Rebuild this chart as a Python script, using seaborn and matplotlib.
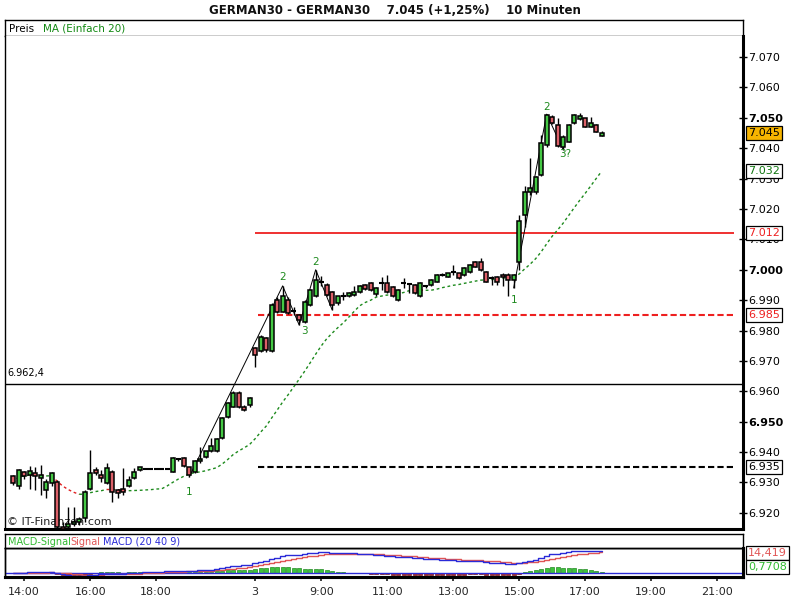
import numpy as np
import pandas as pd
import matplotlib
matplotlib.use("Agg")
import matplotlib.pyplot as plt
import seaborn as sns

# ---------------- data (index points, 10-minute bars) ----------------
opens = [6932.0, 6928.7, 6933.5, 6932.5, 6933.0, 6931.4, 6927.6, 6929.8, 6930.3, 6915.5,
         6915.5, 6916.5, 6917.0, 6918.2, 6928.0, 6934.1, 6932.5, 6929.8, 6933.6, 6927.6,
         6927.8, 6928.7, 6931.4, 6934.0, 6934.5, 6934.5, 6934.5, 6934.5, 6934.5, 6933.6,
         6937.5, 6938.0, 6935.0, 6933.6, 6937.0, 6938.3, 6940.5, 6940.2, 6944.6, 6951.7,
         6955.0, 6959.6, 6955.0, 6955.5, 6974.2, 6973.1, 6977.5, 6973.1, 6990.0, 6986.2,
         6990.0, 6986.2, 6985.2, 6982.9, 6988.4, 6991.2, 6996.2, 6995.0, 6992.8, 6989.0,
         6991.2, 6991.2, 6991.7, 6992.8, 6995.0, 6995.5, 6991.9, 6995.5, 6995.5, 6994.4,
         6990.1, 6995.5, 6995.5, 6995.0, 6991.2, 6994.5, 6995.0, 6996.1, 6998.3, 6997.7,
         6999.4, 6998.8, 6998.3, 6999.4, 7002.7, 7002.7, 6999.4, 6997.2, 6997.7, 6998.3,
         6998.3, 6996.6, 7002.7, 7018.0, 7025.5, 7025.7, 7031.2, 7041.0, 7050.4, 7047.6,
         7040.5, 7042.1, 7048.2, 7049.6, 7049.8, 7047.0, 7047.6, 7044.1]
highs = [6932.5, 6934.5, 6933.8, 6935.5, 6935.2, 6935.8, 6931.0, 6933.5, 6930.8, 6917.0,
         6922.0, 6922.1, 6918.5, 6927.5, 6940.7, 6935.2, 6934.0, 6936.5, 6934.0, 6928.0,
         6934.7, 6932.0, 6934.7, 6935.2, 6934.5, 6934.5, 6934.5, 6934.5, 6934.5, 6938.5,
         6938.0, 6938.3, 6935.2, 6937.5, 6941.8, 6940.5, 6944.5, 6944.7, 6951.5, 6956.5,
         6960.0, 6960.0, 6955.5, 6958.0, 6974.5, 6978.5, 6978.0, 6989.0, 6991.0, 6994.7,
         6991.0, 6987.7, 6985.5, 6990.0, 6993.8, 7000.0, 6998.0, 6995.5, 6993.0, 6991.5,
         6992.8, 6992.8, 6994.5, 6995.0, 6995.3, 6996.0, 6994.2, 6997.7, 6998.3, 6994.7,
         6993.7, 6997.2, 6995.7, 6995.3, 6995.8, 6995.0, 6997.0, 6998.6, 6999.0, 6999.0,
         7001.6, 6999.0, 7000.8, 7002.0, 7003.0, 7003.8, 6999.7, 6998.0, 6998.0, 6998.8,
         6998.8, 6998.5, 7018.0, 7027.6, 7036.7, 7031.0, 7044.3, 7051.2, 7051.0, 7049.8,
         7044.2, 7048.0, 7051.2, 7051.5, 7050.0, 7050.4, 7047.8, 7045.5]
lows = [6929.2, 6928.0, 6931.0, 6928.0, 6927.6, 6926.0, 6924.8, 6929.0, 6914.5, 6914.0,
        6915.0, 6915.8, 6916.0, 6917.0, 6927.5, 6932.5, 6930.0, 6929.5, 6923.7, 6925.0,
        6926.0, 6928.5, 6931.0, 6933.8, 6934.5, 6934.5, 6934.5, 6934.5, 6934.5, 6933.3,
        6937.0, 6935.0, 6931.8, 6933.0, 6936.5, 6938.0, 6940.0, 6940.0, 6944.3, 6951.2,
        6954.8, 6954.5, 6953.5, 6955.0, 6968.0, 6973.0, 6973.0, 6973.0, 6985.8, 6986.0,
        6985.5, 6985.0, 6981.8, 6982.5, 6988.0, 6991.0, 6994.5, 6991.2, 6986.8, 6988.5,
        6990.0, 6991.0, 6991.5, 6992.5, 6993.3, 6993.0, 6991.5, 6993.4, 6992.5, 6991.0,
        6989.8, 6993.9, 6992.3, 6992.0, 6991.0, 6994.0, 6994.7, 6995.8, 6998.0, 6997.5,
        6998.3, 6997.0, 6998.0, 6999.0, 7000.8, 6999.5, 6995.8, 6995.0, 6995.0, 6994.5,
        6991.2, 6994.0, 7000.0, 7014.0, 7024.6, 7025.0, 7031.0, 7040.5, 7048.0, 7040.3,
        7039.5, 7042.0, 7048.0, 7049.4, 7046.8, 7046.8, 7045.2, 7044.0]
closes = [6929.8, 6934.1, 6932.3, 6933.8, 6932.2, 6932.5, 6930.3, 6933.0, 6915.5, 6914.8,
          6916.2, 6917.0, 6918.0, 6927.0, 6933.0, 6933.0, 6931.5, 6934.7, 6927.0, 6926.5,
          6926.8, 6930.9, 6933.6, 6935.0, 6934.5, 6934.5, 6934.5, 6934.5, 6934.5, 6938.0,
          6937.6, 6935.5, 6932.5, 6937.0, 6937.8, 6940.2, 6942.1, 6944.3, 6951.1, 6956.1,
          6959.4, 6955.0, 6954.0, 6957.7, 6972.0, 6978.0, 6973.6, 6988.4, 6986.2, 6991.2,
          6985.7, 6986.4, 6983.5, 6989.5, 6993.4, 6996.7, 6996.0, 6991.7, 6988.4, 6991.2,
          6991.2, 6992.3, 6992.8, 6994.5, 6993.6, 6993.2, 6993.9, 6995.5, 6992.8, 6991.2,
          6993.4, 6995.5, 6995.3, 6992.3, 6995.5, 6994.5, 6996.6, 6998.3, 6998.3, 6998.8,
          6999.4, 6997.2, 7000.5, 7001.6, 7001.0, 6999.9, 6996.1, 6997.2, 6996.0, 6997.7,
          6996.6, 6998.3, 7016.0, 7025.7, 7027.0, 7030.6, 7041.6, 7050.9, 7048.2, 7040.6,
          7043.8, 7047.6, 7050.9, 7050.7, 7047.0, 7048.2, 7045.4, 7045.0]

tick_pos = [2, 14, 26, 44, 56, 68, 80, 92, 104, 116, 128]
tick_labels = ["14:00", "16:00", "18:00", "3", "9:00", "11:00", "13:00",
               "15:00", "17:00", "19:00", "21:00"]
ytick_vals = [6920, 6930, 6940, 6950, 6960, 6970, 6980, 6990, 7000,
              7010, 7020, 7030, 7040, 7050, 7060, 7070]
bold_ticks = [6950, 7000, 7050]

level_prev = 6962.4
level_red = 7012
level_red_dash = 6985
level_black_dash = 6935
last_price = 7045
level_start = 44
macd_signal_last = "14,419"
macd_hist_last = "0,7708"

zz1_idx = [32, 49, 52, 55, 58]
zz1_val = [6931.8, 6994.7, 6981.8, 7000.0, 6986.8]
zz2_idx = [91, 97, 100]
zz2_val = [6994.0, 7051.2, 7039.5]
wave_labels = ["1", "2", "3", "2", "1", "2", "3?"]
wave_idx = [32, 49, 53, 55, 91, 97, 100.4]
wave_val = [6927.0, 6997.5, 6980.0, 7002.5, 6990.0, 7053.5, 7038.0]

# ---------------- derived indicators ----------------
df = pd.DataFrame({"i": np.arange(len(closes)), "open": opens, "high": highs,
                   "low": lows, "close": closes})
df["ma"] = df["close"].rolling(20, min_periods=1).mean()
ema20 = df["close"].ewm(span=20, adjust=False).mean()
ema40 = df["close"].ewm(span=40, adjust=False).mean()
df["macd"] = ema20 - ema40
df["signal"] = df["macd"].ewm(span=9, adjust=False).mean()
df["hist"] = df["macd"] - df["signal"]

# ---------------- style ----------------
sns.set_theme(style="white")
plt.rcParams["font.family"] = ["DejaVu Sans"]
plt.rcParams["axes.linewidth"] = 1.0

W, H = 800, 600
fig = plt.figure(figsize=(8, 6), dpi=100)
fig.patch.set_facecolor("white")


def px_axes(x0, y0, x1, y1):
    return fig.add_axes([x0 / W, 1 - y1 / H, (x1 - x0) / W, (y1 - y0) / H])


XL = (-1.49, 132.7)
GREEN = "#44c844"
RED = "#dc6068"

# header strip
hdr = px_axes(5, 20, 743, 36)
hdr.set_xticks([]); hdr.set_yticks([])
for s in hdr.spines.values():
    s.set_color("black"); s.set_linewidth(1)
hdr.text(0.005, 0.45, "Preis", transform=hdr.transAxes, fontsize=7.5, va="center", color="black")
hdr.text(0.052, 0.45, "MA (Einfach 20)", transform=hdr.transAxes, fontsize=7.5, va="center", color="#118811")

fig.text(395 / W, 1 - 10 / H, "GERMAN30 - GERMAN30    7.045 (+1,25%)    10 Minuten",
         ha="center", va="center", fontsize=8.5, fontweight="bold", color="#111111")

# main price axes
ax = px_axes(5, 36, 743, 529)
ax.set_xlim(*XL)
ax.set_ylim(6914.7, 7076.9)
for s in ax.spines.values():
    s.set_color("black"); s.set_linewidth(1)
ax.spines["right"].set_linewidth(2.2)
ax.spines["bottom"].set_linewidth(2.2)
ax.spines["top"].set_visible(False)
ax.set_xticks([])
ax.yaxis.tick_right()
ax.set_yticks(ytick_vals)
ax.set_yticklabels([f"{v/1000:.3f}" for v in ytick_vals])
ax.tick_params(axis="y", direction="inout", length=6, width=1, pad=1,
               labelsize=8, colors="black", right=True)
for lab, v in zip(ax.get_yticklabels(), ytick_vals):
    if v in bold_ticks:
        lab.set_fontweight("bold")

# copyright text under the candles
ax.text(-1.1, 6917.0, "© IT-Finanzen.com", fontsize=8, color="#222222", zorder=1,
        ha="left", va="center")
ax.text(-1.1, 6964.3, "6.962,4", fontsize=7, color="black", ha="left", va="bottom")

# levels
ax.axhline(level_prev, color="black", lw=1, zorder=2)
ax.hlines(level_red, level_start, 131, color="#ee2020", lw=1.3, zorder=2)
ax.hlines(level_red_dash, level_start + 0.5, 131, color="#ee2020", lw=1.5,
          linestyles=(0, (3, 1.5)), zorder=2)
ax.hlines(level_black_dash, level_start + 0.5, 131, color="black", lw=1.5,
          linestyles=(0, (3, 1.5)), zorder=2)

# moving average, coloured by direction (rising green, falling red)
ma = df["ma"].values
xi = df["i"].values
rising = np.diff(ma) >= 0
k = 0
while k < len(rising):
    j = k
    while j + 1 < len(rising) and rising[j + 1] == rising[k]:
        j += 1
    col = "#1d8a1d" if rising[k] else "#e02020"
    ax.plot(xi[k:j + 2], ma[k:j + 2], color=col, lw=1, linestyle=(0, (2, 2)), zorder=3)
    k = j + 1

# candles
is_up = df["close"] >= df["open"]
ax.vlines(df["i"], df["low"], df["high"], color="black", lw=1, zorder=4)
body_lo = np.minimum(df["open"], df["close"])
body_h = np.abs(df["close"] - df["open"])
flat = body_h < 0.4
ax.bar(df["i"][~flat], body_h[~flat], bottom=body_lo[~flat], width=0.72,
       color=np.where(is_up[~flat], GREEN, RED), edgecolor="black", linewidth=1.1, zorder=5)
ax.hlines(df["close"][flat], df["i"][flat] - 0.45, df["i"][flat] + 0.45,
          color="black", lw=1.5, zorder=5)

# zigzag
ax.plot(zz1_idx, zz1_val, color="black", lw=0.7, zorder=4.5)
ax.plot(zz2_idx, zz2_val, color="black", lw=0.7, zorder=4.5)
for t, xx, yv in zip(wave_labels, wave_idx, wave_val):
    ax.text(xx, yv, t, color="#1d8a1d", fontsize=7.5, ha="center", va="center", zorder=7)

# right value boxes
def vbox(a, y, txt, fc, tc, coords="data"):
    a.annotate(txt, xy=(1.0, y), xycoords=("axes fraction", coords),
               xytext=(3.5, 0), textcoords="offset points", ha="left", va="center",
               fontsize=8, color=tc, annotation_clip=False, zorder=10,
               bbox=dict(boxstyle="square,pad=0.18", fc=fc, ec="black", lw=0.9))

vbox(ax, level_black_dash, f"{level_black_dash/1000:.3f}", "white", "black")
vbox(ax, level_red_dash, f"{level_red_dash/1000:.3f}", "white", "#ee2020")
vbox(ax, level_red, f"{level_red/1000:.3f}", "white", "#ee2020")
vbox(ax, df["ma"].iloc[-1], f"{df['ma'].iloc[-1]/1000:.3f}", "white", "#117711")
vbox(ax, last_price, f"{last_price/1000:.3f}", "#f7b500", "black")

# MACD legend strip
mh = px_axes(5, 534, 743, 548)
mh.set_xticks([]); mh.set_yticks([])
for s in mh.spines.values():
    s.set_color("black"); s.set_linewidth(1)
mh.text(0.004, 0.45, "MACD-Signal", transform=mh.transAxes, fontsize=7, va="center", color="#33bb33")
mh.text(0.088, 0.45, "Signal", transform=mh.transAxes, fontsize=7, va="center", color="#e05555")
mh.text(0.133, 0.45, "MACD (20 40 9)", transform=mh.transAxes, fontsize=7, va="center", color="#2a2ad8")

# MACD panel
mac = px_axes(5, 548, 743, 577)
mac.set_xlim(*XL)
hx = mac.twinx()
hx.set_zorder(mac.get_zorder() - 1)
mac.patch.set_visible(False)
hx.set_ylim(-2.1, 13.0)
hx.bar(df["i"], df["hist"], width=0.7,
       color=np.where(df["hist"] >= 0, "#3cc43c", "#b02a2a"),
       edgecolor=np.where(df["hist"] >= 0, "#228822", "#801818"), linewidth=0.5)
hx.set_yticks([])
mac.set_ylim(-2.8, 17.4)
mac.axhline(0, color="#2a2ad8", lw=1)
sns.lineplot(data=df, x="i", y="signal", ax=mac, color="#e05555", lw=1,
             drawstyle="steps-mid", legend=False)
sns.lineplot(data=df, x="i", y="macd", ax=mac, color="#2a2ad8", lw=1,
             drawstyle="steps-mid", legend=False)
mac.set_xlabel(""); mac.set_ylabel("")
mac.set_xticks(tick_pos)
mac.set_xticklabels(tick_labels)
mac.tick_params(axis="x", direction="out", length=3, labelsize=8, pad=4, bottom=True)
mac.set_yticks([])
for a in (mac, hx):
    for s in a.spines.values():
        s.set_color("black"); s.set_linewidth(1)
    a.spines["right"].set_linewidth(2.2)
    a.spines["bottom"].set_linewidth(2.2)

vbox(mac, 0.82, macd_signal_last, "white", "#e05555", coords="axes fraction")
vbox(mac, 0.35, macd_hist_last, "white", "#33bb33", coords="axes fraction")

fig.savefig("out.png", dpi=100, facecolor="white")
